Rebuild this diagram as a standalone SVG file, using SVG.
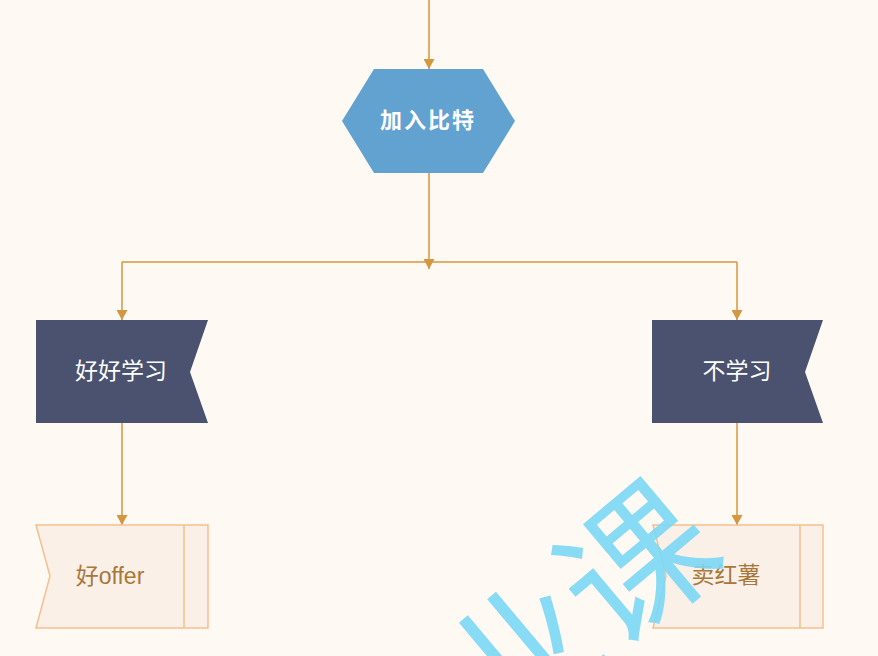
<svg xmlns="http://www.w3.org/2000/svg" width="878" height="656" viewBox="0 0 878 656">
<defs>
<marker id="arr" viewBox="0 0 10 11" refX="10" refY="5.5" markerWidth="10" markerHeight="11" markerUnits="userSpaceOnUse" orient="auto">
<path d="M0,0 L10,5.5 L0,11 Z" fill="#d4963e"/>
</marker>
<style>
.ln{fill:none;stroke:#d4963e;stroke-width:1.5}
.t{font-family:"Noto Sans CJK SC","Liberation Sans",sans-serif;text-anchor:middle;dominant-baseline:central}
.w{fill:#ffffff;font-size:23px}
.b{fill:#a8773a;font-size:23px;font-family:"Liberation Sans","Noto Sans CJK SC",sans-serif}
.flag{fill:#4a5270}
.doc{fill:#fbf0e7;stroke:#f3c08e;stroke-width:1.5}
</style>
</defs>
<rect width="878" height="656" fill="#fef9f3"/>
<g id="connectors">
<line class="ln" x1="429" y1="0" x2="429" y2="69" marker-end="url(#arr)"/>
<line class="ln" x1="429" y1="173" x2="429" y2="269" marker-end="url(#arr)"/>
<line class="ln" x1="122" y1="262" x2="737" y2="262"/>
<line class="ln" x1="122" y1="262" x2="122" y2="320" marker-end="url(#arr)"/>
<line class="ln" x1="737" y1="262" x2="737" y2="320" marker-end="url(#arr)"/>
<line class="ln" x1="122" y1="423" x2="122" y2="525" marker-end="url(#arr)"/>
<line class="ln" x1="737" y1="423" x2="737" y2="525" marker-end="url(#arr)"/>
</g>
<g id="join">
<polygon points="342,121 374,69 483,69 515,121 483,173 374,173" fill="#62a2d0"/>
<text class="t" x="428" y="118" fill="#ffffff" font-size="22" font-weight="bold" letter-spacing="2">加入比特</text>
</g>
<g id="study">
<polygon class="flag" points="36,320 208,320 190,372 208,423 36,423"/>
<text class="t w" x="121" y="369">好好学习</text>
</g>
<g id="nostudy">
<polygon class="flag" points="652,320 823,320 805,372 823,423 652,423"/>
<text class="t w" x="737" y="369">不学习</text>
</g>
<g id="offer">
<polygon class="doc" points="36,525 208,525 208,628 36,628 50,576"/>
<line x1="184" y1="525" x2="184" y2="628" stroke="#f3c08e" stroke-width="1.5"/>
<text class="t b" x="110" y="576">好offer</text>
</g>
<g id="sweetpotato">
<polygon class="doc" points="653,525 823,525 823,628 653,628 666,576"/>
<line x1="800" y1="525" x2="800" y2="628" stroke="#f3c08e" stroke-width="1.5"/>
<text class="t b" x="726" y="575">卖红薯</text>
</g>
<g id="watermark" opacity="0.9">
<text x="630" y="555" transform="rotate(-40 630 555)" font-family="Noto Sans CJK SC,sans-serif" font-size="150" fill="#7cd8f6" text-anchor="middle" dominant-baseline="central">课</text>
<text x="515" y="652" transform="rotate(-40 515 652)" font-family="Noto Sans CJK SC,sans-serif" font-size="150" fill="#7cd8f6" text-anchor="middle" dominant-baseline="central">业</text>
</g>
</svg>
